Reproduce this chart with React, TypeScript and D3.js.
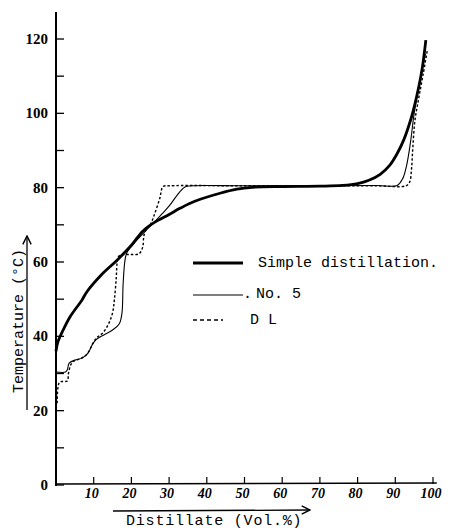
import React from "react";
import * as d3 from "d3";

// Distillation curves: [distillate vol.%, temperature °C]
const simpleDistillation: [number, number][] = [
  [0, 36], [0.5, 38.5], [1.9, 41.7], [3.7, 45.2], [6.9, 49.8], [8.2, 52], [12, 56.5],
  [16.2, 60.5], [20, 64.5], [23, 68.3], [26, 70.6], [30, 72.8], [33, 74.5], [37, 76.4],
  [43.5, 78.5], [48, 79.6], [52, 80.1], [60, 80.3], [70, 80.4], [76, 80.6], [80, 81.1],
  [83, 82], [86, 83.6], [88.5, 86], [90.4, 89], [92.3, 93], [94, 98], [95.2, 102.5],
  [96.2, 107], [97.2, 112.5], [98.1, 119.7],
];

const no5: [number, number][] = [
  [0, 30.4], [2.5, 30.4], [3, 31], [3.5, 32.8], [5, 33.6], [7, 34.2], [8.5, 35.5],
  [9.5, 37.5], [10.5, 39], [12, 40], [15, 41.7], [16.8, 43.4], [17.5, 46.3], [17.8, 54],
  [18.3, 60.5], [18.8, 62.5], [20, 64.2], [22, 66.5], [24, 68.6], [25.7, 70.3], [28, 72.8],
  [30.2, 75.3], [32, 77.8], [34.2, 80.2], [36, 80.5], [50, 80.5], [70, 80.5], [85, 80.6],
  [90.5, 80.6], [92, 82.5], [93, 86], [94, 92], [95, 100], [96, 106], [97, 111], [98, 116],
];

const dl: [number, number][] = [
  [0.3, 22], [0.5, 26], [1, 27.7], [3, 28], [3.3, 30], [4, 32.5], [5, 33.5], [6.5, 34],
  [8, 35], [9, 36.5], [10, 38.5], [11, 39.8], [12.5, 41], [14, 43.5], [15, 46.3],
  [15.5, 50], [16, 56], [16.2, 59.7], [16.6, 61.5], [18, 62], [20, 62], [22, 62.2],
  [23, 64], [23.3, 67], [24, 69], [25, 70], [26, 72.5], [27.5, 77], [28.4, 80.3],
  [30, 80.5], [50, 80.5], [70, 80.5], [85, 80.5], [92.8, 80.5], [93.8, 81.5], [94.3, 85],
  [94.6, 90], [95.2, 98], [96.2, 104], [97.3, 110], [98.5, 117],
];

const xTicks = [10, 20, 30, 40, 50, 60, 70, 80, 90, 100];
const yTicks = [0, 10, 20, 30, 40, 50, 60, 70, 80, 90, 100, 110, 120];
const yLabels = [0, 20, 40, 60, 80, 100, 120];

const legendItems = ["Simple distillation.", "No. 5", "D L"];

const W = 449;
const H = 530;

const mono = "'Liberation Mono', 'DejaVu Sans Mono', monospace";
const serif = "'Liberation Serif', 'DejaVu Serif', serif";

export default function App() {
  const x = d3.scaleLinear().domain([0, 100]).range([56, 433]);
  const y = d3.scaleLinear().domain([0, 120]).range([485, 39]);

  const line = d3
    .line<[number, number]>()
    .x((d) => x(d[0]))
    .y((d) => y(d[1]))
    .curve(d3.curveCatmullRom.alpha(0.5));

  const x0 = x(0);
  const yBase = y(0);

  return (
    <svg
      width={W}
      height={H}
      viewBox={`0 0 ${W} ${H}`}
      style={{ position: "absolute", left: 0, top: 0, background: "#fff" }}
    >
      <defs>
        <marker id="arrow" viewBox="0 0 10 10" refX="9" refY="5" markerWidth="8" markerHeight="8" orient="auto">
          <path d="M1,1 L9,5 L1,9" fill="none" stroke="#000" strokeWidth={1.4} />
        </marker>
      </defs>

      {/* y axis */}
      <line x1={x0} y1={12} x2={x0} y2={yBase + 1} stroke="#000" strokeWidth={2} />
      {yTicks.map((t) => (
        <line key={`yt${t}`} x1={x0} x2={x0 + 8} y1={y(t)} y2={y(t)} stroke="#000" strokeWidth={1.3} />
      ))}
      {yLabels.map((t) => (
        <text
          key={`yl${t}`}
          x={x0 - 8}
          y={y(t) + 5}
          textAnchor="end"
          fontFamily={serif}
          fontWeight="bold"
          fontSize={15}
          fill="#000"
        >
          {t}
        </text>
      ))}

      {/* x axis */}
      <line x1={x0} y1={yBase - 1} x2={x(101)} y2={yBase - 2} stroke="#000" strokeWidth={1.6} />
      {xTicks.map((t) => (
        <line key={`xt${t}`} x1={x(t)} x2={x(t)} y1={yBase - 1} y2={yBase - 8} stroke="#000" strokeWidth={1.2} />
      ))}
      {xTicks.map((t) => (
        <text
          key={`xl${t}`}
          x={x(t) - 2}
          y={yBase + 13}
          textAnchor="middle"
          fontFamily={serif}
          fontWeight="bold"
          fontStyle="italic"
          fontSize={14}
          fill="#000"
        >
          {t}
        </text>
      ))}

      {/* axis titles */}
      <line x1={113} y1={511} x2={310} y2={510} stroke="#000" strokeWidth={1.3} markerEnd="url(#arrow)" />
      <text x={126} y={525} fontFamily={mono} fontSize={15} letterSpacing={0.8} fill="#000">
        Distillate (Vol.%)
      </text>
      <line x1={27} y1={410} x2={27} y2={236} stroke="#000" strokeWidth={1.3} markerEnd="url(#arrow)" />
      <text
        transform="translate(23,393) rotate(-90)"
        fontFamily={mono}
        fontSize={15}
        fill="#000"
      >
        Temperature (°C)
      </text>

      {/* curves */}
      <path d={line(dl) ?? ""} fill="none" stroke="#000" strokeWidth={1.4} strokeDasharray="2.5,2" />
      <path d={line(no5) ?? ""} fill="none" stroke="#000" strokeWidth={1.1} />
      <path d={line(simpleDistillation) ?? ""} fill="none" stroke="#000" strokeWidth={2.8} />

      {/* legend */}
      <line x1={193} x2={243} y1={263} y2={263} stroke="#000" strokeWidth={2.8} />
      <text x={258} y={267} fontFamily={mono} fontSize={15} fill="#000">
        {legendItems[0]}
      </text>
      <line x1={193} x2={243} y1={295} y2={295} stroke="#000" strokeWidth={1.2} />
      <text x={243} y={298} fontFamily={mono} fontSize={15} fill="#000">
        .
      </text>
      <text x={256} y={298} fontFamily={mono} fontSize={15} fill="#000">
        {legendItems[1]}
      </text>
      <line x1={193} x2={223} y1={320} y2={320} stroke="#000" strokeWidth={1.4} strokeDasharray="4,3" />
      <text x={250} y={324} fontFamily={mono} fontSize={15} fill="#000">
        {legendItems[2]}
      </text>
    </svg>
  );
}
